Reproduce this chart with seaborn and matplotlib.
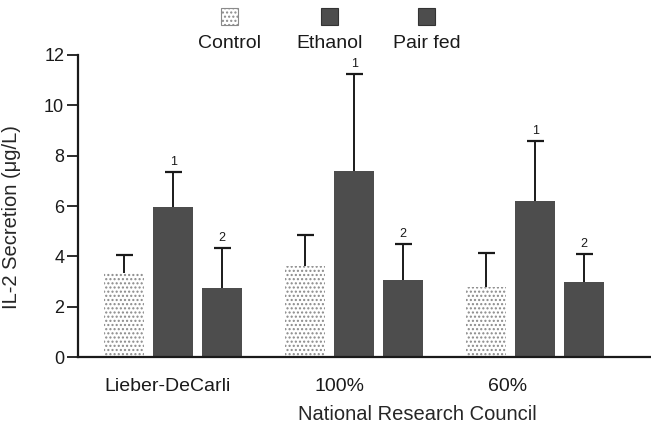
import pandas as pd
import seaborn as sns
import matplotlib.pyplot as plt
from matplotlib.patches import Rectangle

diets = ["Lieber-DeCarli", "100%", "60%"]
groups = ["Control", "Ethanol", "Pair fed"]
control_mean = [3.35, 3.6, 2.8]
control_err = [0.7, 1.25, 1.35]
ethanol_mean = [5.95, 7.4, 6.2]
ethanol_err = [1.4, 3.85, 2.4]
pairfed_mean = [2.75, 3.05, 3.0]
pairfed_err = [1.6, 1.45, 1.1]
sig_marks = {"Ethanol": "1", "Pair fed": "2"}

df = pd.DataFrame({
    "diet": diets * 3,
    "group": [g for g in groups for _ in diets],
    "mean": control_mean + ethanol_mean + pairfed_mean,
    "err": control_err + ethanol_err + pairfed_err,
})

sns.set_style("ticks")
plt.rcParams["font.family"] = ["Liberation Sans", "DejaVu Sans"]
plt.rcParams["hatch.color"] = "#8a8a8a"
plt.rcParams["hatch.linewidth"] = 1.0

dark = "#4d4d4d"
ink = "#1a1a1a"
palette = {"Control": "white", "Ethanol": dark, "Pair fed": dark}

fig = plt.figure(figsize=(6.51, 4.23), dpi=100)
ax = fig.add_axes([0.12, 0.156, 0.88, 0.714])

sns.barplot(data=df, x="diet", y="mean", hue="group", palette=palette,
            width=0.81, gap=0.18, legend=False, ax=ax, errorbar=None,
            saturation=1, linewidth=0)

for container, group in zip(ax.containers, groups):
    sub = df[df["group"] == group]
    for bar, m, e in zip(container, sub["mean"], sub["err"]):
        xc = bar.get_x() + bar.get_width() / 2
        if group == "Control":
            bar.set_hatch("....")
            bar.set_edgecolor("#8a8a8a")
            bar.set_linewidth(0)
        ax.vlines(xc, m, m + e, color=ink, lw=1.4, zorder=3)
        ax.hlines(m + e, xc - 0.047, xc + 0.047, color=ink, lw=1.6, zorder=3)
        if group in sig_marks:
            ax.text(xc, m + e + 0.15, sig_marks[group], ha="center", va="bottom",
                    fontsize=9, color=ink)

ax.set_ylim(0, 12)
ax.set_xlim(-0.525, 2.64)
ax.set_yticks(range(0, 13, 2))
# labels in the original sit a little left of the group centres
ax.set_xticks([-0.03, 0.92, 1.845])
ax.set_xticklabels(diets)
ax.tick_params(axis="y", length=8, width=1.3, pad=2, labelsize=13, colors=ink)
ax.tick_params(axis="x", length=0, labelsize=14, pad=15, colors=ink)
ax.set_xlabel("National Research Council", fontsize=14.5, labelpad=7, x=0.593)
ax.set_ylabel("IL-2 Secretion (μg/L)", fontsize=14.5)
ax.yaxis.set_label_coords(-0.1, 0.465)
for s in ["left", "bottom"]:
    ax.spines[s].set_linewidth(1.6)
    ax.spines[s].set_color(ink)
sns.despine(ax=ax)

# legend: swatches above labels
leg_x = [0.353, 0.506, 0.655]
for x, g in zip(leg_x, groups):
    r = Rectangle((x - 0.013, 0.941), 0.026, 0.040, transform=fig.transFigure,
                  facecolor=palette[g], edgecolor="#8a8a8a" if g == "Control" else "#333333",
                  hatch="...." if g == "Control" else None, lw=0.8)
    fig.patches.append(r)
    fig.text(x, 0.898, g, ha="center", va="center", fontsize=14, color=ink)

fig.savefig("out.png", dpi=100)
